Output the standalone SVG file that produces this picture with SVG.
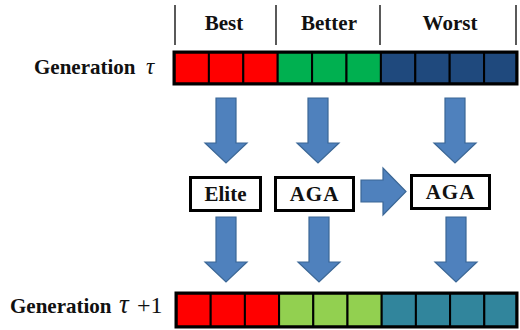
<svg xmlns="http://www.w3.org/2000/svg" width="520" height="330" viewBox="0 0 520 330">
  <style>
    .lbl { font-family: "Liberation Serif", "Times New Roman", serif; font-weight: bold; font-size: 21px; fill: #111; }
    .sym { font-family: "Liberation Serif", "Times New Roman", serif; font-style: italic; fill: #111; }
    .num { font-family: "Liberation Serif", "Times New Roman", serif; font-size: 24px; fill: #111; }
    .sep { stroke: #000; stroke-width: 1.3; }
    .bar { fill: none; stroke: #000; stroke-width: 3; }
    .cell { stroke: #000; stroke-width: 2; }
    .box { fill: #fff; stroke: #000; stroke-width: 3; }
    .arrow { fill: #4F81BD; stroke: #3B6796; stroke-width: 1.2; stroke-linejoin: miter; }
  </style>
  <defs>
    <!-- downward block arrow, origin at top centre of shaft -->
    <path id="down" d="M -10 0 H 10 V 45 H 21 L 0 65 L -21 45 H -10 Z"/>
  </defs>

  <!-- column headings -->
  <g id="headings">
    <line class="sep" x1="175" y1="5" x2="175" y2="45"/>
    <line class="sep" x1="276" y1="5" x2="276" y2="45"/>
    <line class="sep" x1="380" y1="5" x2="380" y2="45"/>
    <line class="sep" x1="516" y1="5" x2="516" y2="45"/>
    <text class="lbl" x="224" y="30" text-anchor="middle">Best</text>
    <text class="lbl" x="329" y="30" text-anchor="middle">Better</text>
    <text class="lbl" x="450" y="30" text-anchor="middle">Worst</text>
  </g>

  <!-- generation tau -->
  <g id="gen-tau">
    <text class="lbl" x="34" y="74">Generation</text>
    <text class="sym" x="146" y="74" font-size="23">τ</text>
    <g id="pop-tau">
      <rect class="cell" x="174.5" y="52.5" width="34.4" height="31" fill="#FF0000"/>
      <rect class="cell" x="208.9" y="52.5" width="34.4" height="31" fill="#FF0000"/>
      <rect class="cell" x="243.3" y="52.5" width="34.4" height="31" fill="#FF0000"/>
      <rect class="cell" x="277.7" y="52.5" width="34.4" height="31" fill="#00B050"/>
      <rect class="cell" x="312.1" y="52.5" width="34.4" height="31" fill="#00B050"/>
      <rect class="cell" x="346.5" y="52.5" width="34.4" height="31" fill="#00B050"/>
      <rect class="cell" x="380.9" y="52.5" width="34.4" height="31" fill="#1F497D"/>
      <rect class="cell" x="415.3" y="52.5" width="34.4" height="31" fill="#1F497D"/>
      <rect class="cell" x="449.7" y="52.5" width="34.4" height="31" fill="#1F497D"/>
      <rect class="cell" x="484.1" y="52.5" width="32.4" height="31" fill="#1F497D"/>
      <rect class="bar" x="174" y="52" width="343" height="32"/>
    </g>
  </g>

  <!-- operator boxes -->
  <g id="elite">
    <rect class="box" x="190.5" y="177.5" width="70" height="33"/>
    <text class="lbl" x="225.5" y="201" text-anchor="middle">Elite</text>
  </g>
  <g id="aga-1">
    <rect class="box" x="275.5" y="177.5" width="78" height="33"/>
    <text class="lbl" x="314.5" y="201" text-anchor="middle" letter-spacing="1">AGA</text>
  </g>
  <g id="aga-2">
    <rect class="box" x="411.5" y="175.5" width="78" height="33"/>
    <text class="lbl" x="450.5" y="199" text-anchor="middle" letter-spacing="1">AGA</text>
  </g>

  <!-- generation tau + 1 -->
  <g id="gen-tau-1">
    <text class="lbl" x="10" y="313" font-size="22">Generation</text>
    <text class="sym" x="119" y="313" font-size="27">τ</text>
    <text class="num" x="137" y="313">+1</text>
    <g id="pop-tau-1">
      <rect class="cell" x="176.5" y="293.5" width="34.2" height="33" fill="#FF0000"/>
      <rect class="cell" x="210.7" y="293.5" width="34.2" height="33" fill="#FF0000"/>
      <rect class="cell" x="244.9" y="293.5" width="34.2" height="33" fill="#FF0000"/>
      <rect class="cell" x="279.1" y="293.5" width="34.2" height="33" fill="#92D050"/>
      <rect class="cell" x="313.3" y="293.5" width="34.2" height="33" fill="#92D050"/>
      <rect class="cell" x="347.5" y="293.5" width="34.2" height="33" fill="#92D050"/>
      <rect class="cell" x="381.7" y="293.5" width="34.2" height="33" fill="#31859C"/>
      <rect class="cell" x="415.9" y="293.5" width="34.2" height="33" fill="#31859C"/>
      <rect class="cell" x="450.1" y="293.5" width="34.2" height="33" fill="#31859C"/>
      <rect class="cell" x="484.3" y="293.5" width="32.2" height="33" fill="#31859C"/>
      <rect class="bar" x="176" y="293" width="341" height="34"/>
    </g>
  </g>

  <!-- connectors -->
  <g id="connectors">
    <use href="#down" class="arrow" x="226" y="98"/>
    <use href="#down" class="arrow" x="318" y="98"/>
    <use href="#down" class="arrow" x="455" y="98"/>
    <use href="#down" class="arrow" x="226" y="217"/>
    <use href="#down" class="arrow" x="319" y="217"/>
    <use href="#down" class="arrow" x="456" y="217"/>
    <path class="arrow" d="M 361 180 H 383 V 168 L 406 191.5 L 383 215 V 202 H 361 Z"/>
  </g>
</svg>
